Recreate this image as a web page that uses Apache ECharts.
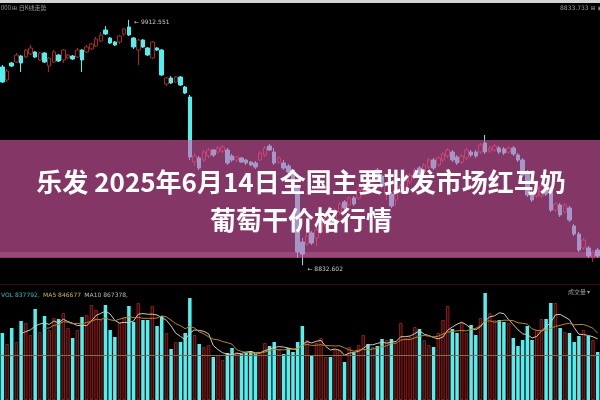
<!DOCTYPE html>
<html><head><meta charset="utf-8">
<script src="https://cdn.jsdelivr.net/npm/echarts@6/dist/echarts.min.js"></script>
<style>html,body{margin:0;padding:0;background:#000}#c{width:600px;height:400px}</style>
</head><body><div id="c"></div>
<script>
const categories = Array.from({length: 128}, (_, i) => 'D' + (i + 1));
// [open, close, lowest, highest]
const ohlc = [
[9705.2,9639.2,9634.8,9714.0],[9648.0,9687.6,9639.2,9696.4],[9722.8,9709.6,9705.2,9727.2],[9727.2,9758.0,9722.8,9766.8],
[9753.6,9722.8,9683.2,9758.0],[9749.2,9780.0,9744.8,9784.4],[9762.4,9788.8,9758.0,9802.0],[9771.2,9749.2,9744.8,9775.6],
[9736.0,9766.8,9731.6,9771.2],[9766.8,9727.2,9722.8,9771.2],[9709.6,9744.8,9683.2,9749.2],[9727.2,9771.2,9722.8,9780.0],
[9758.0,9731.6,9727.2,9762.4],[9736.0,9780.0,9722.8,9784.4],[9744.8,9758.0,9740.4,9762.4],[9753.6,9740.4,9736.0,9758.0],
[9749.2,9780.0,9744.8,9788.8],[9780.0,9736.0,9683.2,9784.4],[9771.2,9793.2,9766.8,9802.0],[9784.4,9806.4,9780.0,9810.8],
[9797.6,9828.4,9793.2,9837.2],[9819.6,9846.0,9815.2,9859.2],[9868.0,9850.4,9846.0,9885.6],[9832.8,9810.8,9806.4,9837.2],
[9815.2,9802.0,9797.6,9819.6],[9815.2,9841.6,9806.4,9846.0],[9850.4,9872.4,9841.6,9876.8],[9881.2,9846.0,9841.6,9912.551],
[9832.8,9793.2,9784.4,9837.2],[9780.0,9824.0,9714.0,9828.4],[9824.0,9793.2,9788.8,9828.4],[9788.8,9758.0,9753.6,9793.2],
[9744.8,9815.2,9740.4,9819.6],[9788.8,9780.0,9775.6,9793.2],[9780.0,9670.0,9665.6,9784.4],[9630.4,9656.8,9621.6,9661.2],
[9656.8,9634.8,9630.4,9665.6],[9639.2,9661.2,9634.8,9665.6],[9661.2,9626.0,9621.6,9665.6],[9617.2,9590.8,9586.4,9621.6],
[9573.2,9309.2,9296.0,9582.0],[9287.2,9313.6,9269.6,9326.8],[9304.8,9260.8,9252.0,9313.6],[9296.0,9331.2,9287.2,9340.0],
[9313.6,9340.0,9304.8,9348.8],[9340.0,9318.0,9309.2,9344.4],[9331.2,9348.8,9322.4,9357.6],[9335.6,9353.2,9326.8,9362.0],
[9340.0,9282.8,9274.0,9348.8],[9313.6,9296.0,9287.2,9322.4],[9296.0,9309.2,9287.2,9313.6],[9304.8,9287.2,9282.8,9309.2],
[9296.0,9282.8,9274.0,9300.4],[9287.2,9274.0,9269.6,9291.6],[9282.8,9265.2,9256.4,9291.6],[9296.0,9326.8,9291.6,9335.6],
[9318.0,9348.8,9309.2,9357.6],[9357.6,9340.0,9335.6,9366.4],[9331.2,9282.8,9274.0,9348.8],[9287.2,9304.8,9278.4,9313.6],
[9282.8,9260.8,9252.0,9296.0],[9269.6,9243.2,9234.4,9278.4],[9243.2,9181.6,9172.8,9252.0],[9172.8,8891.2,8864.8,9181.6],
[8935.2,8882.4,8832.602,8952.8],[8926.4,8961.6,8917.6,8974.8],[8974.8,8930.8,8922.0,8983.6],[8952.8,8988.0,8917.6,8996.8],
[8979.2,9023.2,8970.4,9032.0],[9005.6,9040.8,8996.8,9049.6],[9040.8,9014.4,9005.6,9049.6],[9032.0,9076.0,9023.2,9084.8],
[9067.2,9102.4,9058.4,9111.2],[9111.2,9084.8,9076.0,9120.0],[9098.0,9128.8,9089.2,9137.6],[9128.8,9102.4,9093.6,9137.6],
[9128.8,9164.0,9120.0,9172.8],[9164.0,9190.4,9155.2,9199.2],[9208.0,9172.8,9164.0,9216.8],[9199.2,9234.4,9190.4,9243.2],
[9252.0,9216.8,9208.0,9260.8],[9225.6,9181.6,9172.8,9234.4],[9146.4,9190.4,9120.0,9199.2],[9146.4,9093.6,9084.8,9155.2],
[9120.0,9155.2,9093.6,9164.0],[9155.2,9181.6,9146.4,9190.4],[9172.8,9208.0,9164.0,9216.8],[9199.2,9230.0,9190.4,9238.8],
[9225.6,9252.0,9216.8,9260.8],[9260.8,9230.0,9221.2,9269.6],[9243.2,9274.0,9234.4,9282.8],[9265.2,9296.0,9256.4,9304.8],
[9296.0,9260.8,9252.0,9304.8],[9274.0,9304.8,9265.2,9313.6],[9296.0,9322.4,9287.2,9331.2],[9313.6,9340.0,9304.8,9348.8],
[9331.2,9296.0,9287.2,9340.0],[9309.2,9282.8,9274.0,9318.0],[9287.2,9313.6,9278.4,9322.4],[9304.8,9340.0,9296.0,9348.8],
[9331.2,9318.0,9309.2,9340.0],[9331.2,9313.6,9304.8,9340.0],[9331.2,9362.0,9322.4,9370.8],[9370.8,9331.2,9322.4,9406.0],
[9335.6,9348.8,9326.8,9357.6],[9340.0,9357.6,9331.2,9366.4],[9348.8,9331.2,9322.4,9357.6],[9344.4,9326.8,9318.0,9353.2],
[9331.2,9348.8,9322.4,9357.6],[9348.8,9322.4,9313.6,9357.6],[9318.0,9296.0,9287.2,9326.8],[9296.0,9230.0,9221.2,9304.8],
[9243.2,9142.0,9133.2,9252.0],[9155.2,9120.0,9111.2,9164.0],[9137.6,9172.8,9128.8,9181.6],[9137.6,9181.6,9128.8,9190.4],
[9181.6,9146.4,9137.6,9190.4],[9172.8,9076.0,9067.2,9181.6],[9076.0,9102.4,9067.2,9111.2],[9098.0,9054.0,9045.2,9106.8],
[9067.2,9098.0,9058.4,9106.8],[9084.8,9032.0,9023.2,9093.6],[9005.6,8970.4,8961.6,9014.4],[8970.4,8900.0,8891.2,8979.2],
[8908.8,8944.0,8900.0,8952.8],[8908.8,8873.6,8864.8,8917.6],[8864.8,8891.2,8847.2,8900.0],[8900.0,8873.6,8864.8,8908.8]
];
const volumes = [
670000,560000,720000,580000,790000,770000,650000,910000,680000,840000,700000,820000,810000,870000,720000,620000,
700000,830000,850000,950000,900000,800000,950000,700000,630000,770000,830000,940000,780000,970000,800000,800000,
940000,740000,840000,670000,510000,580000,580000,670000,1020000,650000,560000,530000,550000,430000,450000,400000,
470000,520000,480000,460000,470000,490000,460000,480000,570000,540000,580000,500000,460000,520000,480000,580000,
740000,600000,450000,570000,620000,430000,430000,500000,500000,380000,530000,470000,550000,650000,560000,530000,
540000,610000,600000,610000,570000,770000,620000,630000,730000,710000,600000,550000,530000,670000,800000,940000,
710000,670000,770000,670000,750000,650000,820000,1070000,870000,800000,800000,780000,770000,620000,540000,600000,
740000,600000,700000,810000,810000,970000,970000,720000,680000,670000,580000,640000,700000,640000,600000,480000
];
const volLegend = ['837792', '846677', '867378'];
const titleLine1 = '乐发 2025年6月14日全国主要批发市场红马奶';
const titleLine2 = '葡萄干价格行情';

function movingAvg(arr, n) {
  return arr.map((v, i) => {
    if (i < n - 1) return '-';
    let s = 0; for (let k = i - n + 1; k <= i; k++) s += arr[k];
    return s / n;
  });
}
const UP = '#a82626', DOWN = '#4ef0f0';
const chart = echarts.init(document.getElementById('c'), null, {renderer: 'canvas'});
chart.setOption({
  backgroundColor: '#000',
  animation: false,
  grid: [{left: 0, right: 0, top: 0, height: 270}, {left: 0, right: 0, top: 290, height: 110}],
  xAxis: [
    {type: 'category', data: categories, gridIndex: 0, show: false},
    {type: 'category', data: categories, gridIndex: 1, show: false}
  ],
  yAxis: [
    {gridIndex: 0, min: 8812, max: 10000, show: false, splitLine: {show: false}},
    {gridIndex: 1, min: 0, max: 1100000, show: false, splitLine: {show: false}}
  ],
  series: [
    {
      type: 'candlestick', data: ohlc, barWidth: 4,
      itemStyle: {color: '#000', color0: DOWN, borderColor: UP, borderColor0: DOWN, borderWidth: 1},
      markPoint: {
        symbol: 'circle', symbolSize: 0.1,
        label: {show: true, color: '#c8c8c8', fontSize: 6, fontFamily: 'DejaVu Sans',
          formatter: p => '← ' + Number(p.value).toFixed(3)},
        data: [
          {type: 'max', valueDim: 'highest', label: {position: 'right', offset: [0, 3]}},
          {type: 'min', valueDim: 'lowest', label: {position: 'right', offset: [0, 4]}}
        ]
      }
    },
    {
      type: 'bar', xAxisIndex: 1, yAxisIndex: 1, barWidth: 3.5,
      data: volumes.map((v, i) => ({
        value: v,
        itemStyle: ohlc[i][1] >= ohlc[i][0]
          ? {color: '#360606', borderColor: '#8a1c1c', borderWidth: 1}
          : {color: DOWN}
      })),
      markLine: {symbol: 'none', silent: true, label: {show: false},
        lineStyle: {color: '#806a50', width: 1, type: 'solid'}, data: [{yAxis: 450000}]}
    },
    {type: 'line', xAxisIndex: 1, yAxisIndex: 1, data: movingAvg(volumes, 5), symbol: 'none',
      lineStyle: {color: '#d9c9ae', width: 1}},
    {type: 'line', xAxisIndex: 1, yAxisIndex: 1, data: movingAvg(volumes, 10), symbol: 'none',
      lineStyle: {color: '#b8862c', width: 1}}
  ],
  graphic: [
    {type: 'rect', shape: {x: 0, y: 0, width: 600, height: 3}, style: {fill: '#d4d4d4'}, z: 50},
    {type: 'text', x: 1, y: 5, style: {text: '000 ⊞ 日K线走势', fill: '#9a9a9a', font: '6px "Noto Sans CJK SC"'}, z: 50},
    {type: 'text', x: 560, y: 5, style: {text: '8833.733 ⊞ ◉', fill: '#9a9a9a', font: '6px "DejaVu Sans"'}, z: 50},
    {type: 'line', shape: {x1: 0, y1: 284.5, x2: 600, y2: 284.5}, style: {stroke: '#3c0c0c', lineWidth: 1}, z: 50},
    {type: 'text', x: 1, y: 289, z: 50, style: {
      text: '{a|VOL ' + volLegend[0] + ',} {b|MA5 ' + volLegend[1] + '} {c|MA10 ' + volLegend[2] + ',}',
      rich: {a: {fill: '#3cbcbc', fontSize: 6, fontFamily: 'DejaVu Sans'},
             b: {fill: '#c8b848', fontSize: 6, fontFamily: 'DejaVu Sans'},
             c: {fill: '#bbbbbb', fontSize: 6, fontFamily: 'DejaVu Sans'}}}},
    {type: 'text', x: 568, y: 289, style: {text: '成交量 ▾', fill: '#9a9a9a', font: '6px "Noto Sans CJK SC"'}, z: 50},
    {type: 'rect', shape: {x: 0, y: 140, width: 600, height: 118}, style: {fill: 'rgba(220,92,172,0.6)'}, z: 100},
    {type: 'rect', shape: {x: 0, y: 252, width: 600, height: 5}, style: {fill: 'rgba(255,150,220,0.18)'}, z: 101},
    {type: 'text', x: 301, y: 182, z: 102, style: {text: titleLine1, fill: '#ffffff',
      font: 'bold 26px "Noto Sans CJK SC"', textAlign: 'center', textVerticalAlign: 'middle', align: 'center', verticalAlign: 'middle'}},
    {type: 'text', x: 301, y: 220, z: 102, style: {text: titleLine2, fill: '#ffffff',
      font: 'bold 26px "Noto Sans CJK SC"', textAlign: 'center', textVerticalAlign: 'middle', align: 'center', verticalAlign: 'middle'}}
  ]
});
</script></body></html>
